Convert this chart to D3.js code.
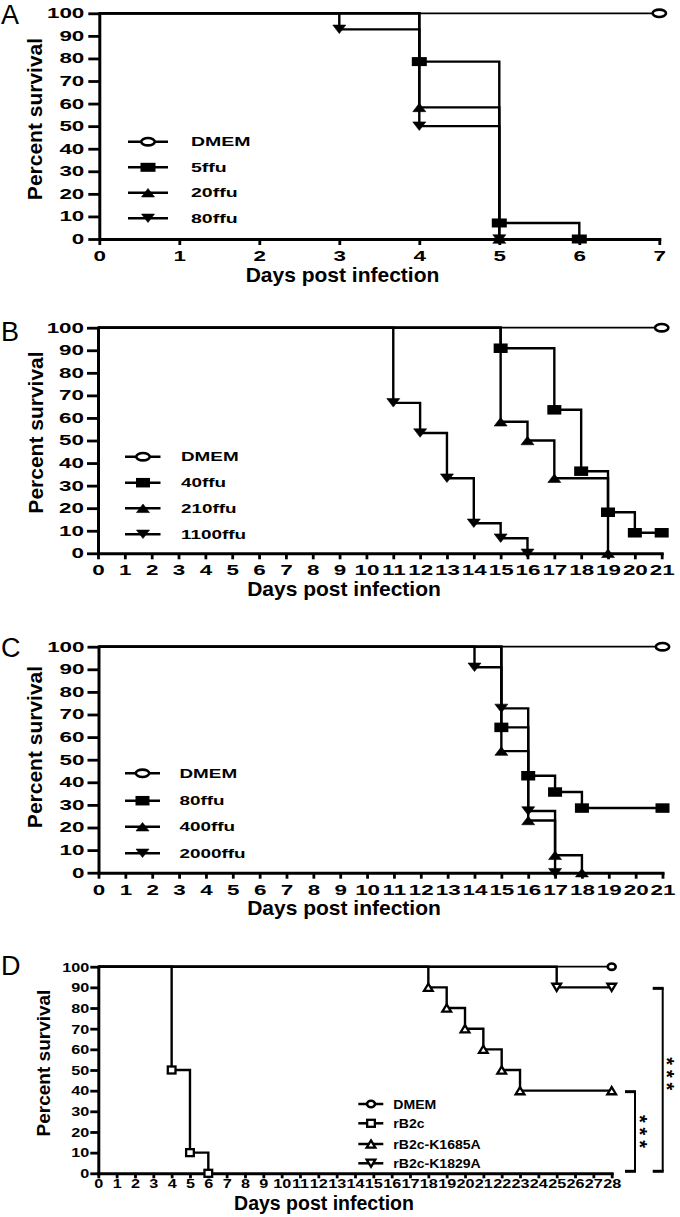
<!DOCTYPE html>
<html><head><meta charset="utf-8">
<script src="https://cdn.jsdelivr.net/npm/d3@7"></script>
<style>body{margin:0;background:#fff}svg{display:block}</style>
</head><body>
<svg id="c" width="680" height="1217"></svg>
<script>
// ---------- DATA ----------
const survTicks = [0,10,20,30,40,50,60,70,80,90,100];
const daysA = [0,1,2,3,4,5,6,7];
const daysBC = [0,1,2,3,4,5,6,7,8,9,10,11,12,13,14,15,16,17,18,19,20,21];
const daysD = [0,1,2,3,4,5,6,7,8,9,10,11,12,13,14,15,16,17,18,19,20,21,22,23,24,25,26,27,28];

const legendA = ["DMEM","5ffu","20ffu","80ffu"];
const legendB = ["DMEM","40ffu","210ffu","1100ffu"];
const legendC = ["DMEM","80ffu","400ffu","2000ffu"];
const legendD = ["DMEM","rB2c","rB2c-K1685A","rB2c-K1829A"];

// [day, percent survival]
const A_DMEM  = [[0,100],[7,100]];
const A_5ffu  = [[0,100],[4,78.6],[5,7.1],[6,0]];
const A_20ffu = [[0,100],[4,58.3],[5,0]];
const A_80ffu = [[0,100],[3,92.9],[4,50],[5,0]];

const B_DMEM    = [[0,100],[21,100]];
const B_40ffu   = [[0,100],[15,90.9],[17,63.6],[18,36.4],[19,18.2],[20,9.1],[21,9.1]];
const B_210ffu  = [[0,100],[15,58.3],[16,50],[17,33.3],[19,0]];
const B_1100ffu = [[0,100],[11,66.7],[12,53.3],[13,33.3],[14,13.3],[15,6.7],[16,0]];

const C_DMEM    = [[0,100],[21,100]];
const C_80ffu   = [[0,100],[15,64.3],[16,42.9],[17,35.7],[18,28.6],[21,28.6]];
const C_400ffu  = [[0,100],[15,53.8],[16,23.1],[17,7.7],[18,0]];
const C_2000ffu = [[0,100],[14,90.9],[15,72.7],[16,27.3],[17,0]];

const D_DMEM    = [[0,100],[28,100]];
const D_rB2c    = [[0,100],[4,50],[5,10],[6,0]];
const D_K1685A  = [[0,100],[18,90],[19,80],[20,70],[21,60],[22,50],[23,40],[28,40]];
const D_K1829A  = [[0,100],[25,90],[28,90]];

// significance brackets in D: [top %, bottom %, label]
const D_sig = [[40,0,"***"],[90,0,"***"]];

// ---------- DRAW ----------
const FONT = "'Liberation Sans', Arial, Helvetica, sans-serif";
const svg = d3.select("#c");

function stretch(sel, f){
  sel.each(function(){
    const l = this.getComputedTextLength();
    if (l > 0 && f !== 1){
      this.setAttribute("textLength", (l*f).toFixed(2));
      this.setAttribute("lengthAdjust","spacingAndGlyphs");
    }
  });
}

const shapesAC = ["circle","square","tri","tridown"];

const panels = [
  {letter:"A", letterY:24, series:[A_DMEM,A_5ffu,A_20ffu,A_80ffu], names:legendA, days:daysA,
   xr:[99.3,659.3], yr:[239,13.3], open:false,
   tickFs:14, tickF:1.6, yTickLen:11, yTickPad:4, xTickLen:6, xLabOff:22,
   titleFs:21, titleF:1, titleX:342.5, titleY:282, yTitleFs:21, yTitleX:41.5, yTitleY:119,
   leg:{ys:[141.7,167.3,192.7,218.3], lx0:128, lx1:168, mx:148, tx:191, fs:13, f:1.5},
   mk:{circ:[8,5], sq:[15,9], tri:[13,8.5]}},
  {letter:"B", letterY:341, series:[B_DMEM,B_40ffu,B_210ffu,B_1100ffu], names:legendB, days:daysBC,
   xr:[98,661.7], yr:[553.3,327.7], open:false,
   tickFs:14, tickF:1.6, yTickLen:11, yTickPad:3, xTickLen:6, xLabOff:22,
   titleFs:21, titleF:1, titleX:344, titleY:596, yTitleFs:21, yTitleX:43.2, yTitleY:432.5,
   leg:{ys:[456.7,482.7,508.3,534.3], lx0:125, lx1:160.5, mx:143, tx:181, fs:13, f:1.45},
   mk:{circ:[8,5], sq:[14,9.5], tri:[13,8.5]}},
  {letter:"C", letterY:657, series:[C_DMEM,C_80ffu,C_400ffu,C_2000ffu], names:legendC, days:daysBC,
   xr:[98.5,662.5], yr:[872.7,646.7], open:false,
   tickFs:14, tickF:1.6, yTickLen:11, yTickPad:3, xTickLen:6, xLabOff:22,
   titleFs:21, titleF:1, titleX:344, titleY:915, yTitleFs:21, yTitleX:42.2, yTitleY:747,
   leg:{ys:[773.3,800.7,826.7,853.3], lx0:125, lx1:160, mx:142.5, tx:179.5, fs:13, f:1.45},
   mk:{circ:[8,5], sq:[14,9.5], tri:[13,8.5]}},
  {letter:"D", letterY:975, series:[D_DMEM,D_rB2c,D_K1685A,D_K1829A], names:legendD, days:daysD,
   xr:[98.3,611.7], yr:[1173.3,966.7], open:true,
   tickFs:13.5, tickF:1.2, yTickLen:8, yTickPad:1, xTickLen:5, xLabOff:14.7,
   titleFs:19.5, titleF:1, titleX:324, titleY:1210, yTitleFs:19, yTitleX:49.5, yTitleY:1063,
   leg:{ys:[1104,1123.3,1144,1163.3], lx0:358.3, lx1:383.3, mx:371, tx:393.3, fs:13, f:1.08},
   mk:{circ:[5.3,4.5], sq:[10,9.3], tri:[11,9.5]}}
];

function drawMarker(g, shape, cx, cy, mk, open){
  const fill = (shape === "circle" || open) ? "#fff" : "#000";
  const sw = shape === "circle" ? 2.6 : (open ? 2.3 : 1);
  if (shape === "circle"){
    g.append("ellipse").attr("cx",cx).attr("cy",cy).attr("rx",mk.circ[0]-sw/2).attr("ry",mk.circ[1]-sw/2)
      .attr("fill",fill).attr("stroke","#000").attr("stroke-width",sw);
  } else if (shape === "square"){
    const w = mk.sq[0]-(open?sw:0), h = mk.sq[1]-(open?sw:0);
    g.append("rect").attr("x",cx-w/2).attr("y",cy-h/2).attr("width",w).attr("height",h)
      .attr("fill",fill).attr("stroke","#000").attr("stroke-width",open?sw:0);
  } else {
    const w = mk.tri[0]-(open?sw:0), h = mk.tri[1]-(open?sw:0);
    const up = shape === "tri";
    const tipY = up ? cy-h/2 : cy+h/2, baseY = up ? cy+h/2 : cy-h/2;
    g.append("path").attr("d",`M${cx},${tipY}L${cx+w/2},${baseY}L${cx-w/2},${baseY}Z`)
      .attr("fill",fill).attr("stroke","#000").attr("stroke-width",open?sw:0.6)
      .attr("stroke-linejoin","miter");
  }
}

panels.forEach(p => {
  const g = svg.append("g");
  const x = d3.scaleLinear().domain([0, d3.max(p.days)]).range(p.xr);
  const y = d3.scaleLinear().domain([0, 100]).range(p.yr);

  // panel letter
  g.append("text").attr("x",1).attr("y",p.letterY).text(p.letter)
    .attr("font-family",FONT).attr("font-size",27).attr("fill","#000");

  // step lines
  const line = d3.line().x(d=>x(d[0])).y(d=>y(d[1])).curve(d3.curveStepAfter);
  p.series.forEach((s,i) => {
    g.append("path").attr("d",line(s)).attr("fill","none").attr("stroke","#000")
      .attr("stroke-width", i===0 ? 1.8 : 2.4).attr("stroke-linejoin","miter");
  });

  // axes
  const fmt = d3.format("d");
  const yAxis = d3.axisLeft(y).tickValues(survTicks).tickFormat(fmt).tickSize(p.yTickLen).tickPadding(p.yTickPad).tickSizeOuter(0);
  const xAxis = d3.axisBottom(x).tickValues(p.days).tickFormat(fmt).tickSize(p.xTickLen).tickSizeOuter(0);
  const gy = g.append("g").attr("transform",`translate(${p.xr[0]},0)`).call(yAxis);
  const gx = g.append("g").attr("transform",`translate(0,${p.yr[0]})`).call(xAxis);
  [gx,gy].forEach(ax => {
    ax.attr("font-family",FONT).attr("font-size",p.tickFs).attr("font-weight","bold");
    ax.select(".domain").attr("stroke","#000").attr("stroke-width",3).attr("stroke-linecap","square");
    ax.selectAll(".tick line").attr("stroke","#000").attr("stroke-width",2.8);
    ax.selectAll(".tick text").attr("fill","#000");
  });
  gx.selectAll(".tick text").attr("dy",null).attr("y",p.xLabOff);
  stretch(gy.selectAll(".tick text"), p.tickF);
  stretch(gx.selectAll(".tick text"), p.tickF);

  // markers
  p.series.forEach((s,i) => {
    const shape = shapesAC[i];
    s.slice(1).forEach(d => drawMarker(g, shape, x(d[0]), y(d[1]), p.mk, p.open));
  });

  // axis titles
  const xt = g.append("text").attr("x",p.titleX).attr("y",p.titleY).attr("text-anchor","middle")
    .attr("font-family",FONT).attr("font-weight","bold").attr("font-size",p.titleFs).attr("fill","#000")
    .text("Days post infection");
  stretch(xt, p.titleF);
  g.append("text").attr("transform",`translate(${p.yTitleX},${p.yTitleY}) rotate(-90)`)
    .attr("text-anchor","middle").attr("font-family",FONT).attr("font-weight","bold")
    .attr("font-size",p.yTitleFs).attr("fill","#000").text("Percent survival");

  // legend
  const L = p.leg;
  p.names.forEach((n,i) => {
    const ly = L.ys[i];
    g.append("line").attr("x1",L.lx0).attr("x2",L.lx1).attr("y1",ly).attr("y2",ly)
      .attr("stroke","#000").attr("stroke-width",2.5);
    drawMarker(g, shapesAC[i], L.mx, ly, p.mk, p.open);
    const t = g.append("text").attr("x",L.tx).attr("y",ly).attr("dy","0.36em")
      .attr("font-family",FONT).attr("font-weight","bold").attr("font-size",L.fs).attr("fill","#000").text(n);
    stretch(t, L.f);
  });

  // significance brackets (panel D)
  if (p.letter === "D"){
    const offs = [23.3, 51];
    const starX = [632.5, 660];
    D_sig.forEach((s,i) => {
      const bx = x(d3.max(p.days)) + offs[i];
      const yt = y(s[0]) + 1, yb = y(s[1]) - 2;
      g.append("line").attr("x1",bx).attr("x2",bx).attr("y1",yt).attr("y2",yb)
        .attr("stroke","#000").attr("stroke-width",2);
      [yt,yb].forEach(yy => g.append("line").attr("x1",bx-10).attr("x2",bx+1).attr("y1",yy).attr("y2",yy)
        .attr("stroke","#000").attr("stroke-width",3));
      const yc = (yt+yb)/2 - (i===1 ? 6 : 0);
      g.append("text").attr("transform",`translate(${starX[i]},${yc}) rotate(90)`)
        .attr("text-anchor","middle").attr("font-family",FONT).attr("font-weight","bold")
        .attr("font-size",20).attr("fill","#000").text(s[2])
        .attr("textLength",33).attr("lengthAdjust","spacing");
    });
  }
});
</script>
</body></html>
